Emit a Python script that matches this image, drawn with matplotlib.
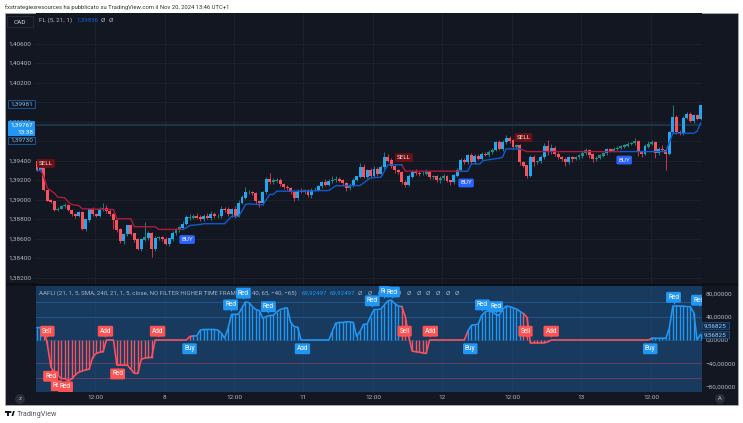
import matplotlib
matplotlib.use("Agg")
import matplotlib.pyplot as plt
import numpy as np
from matplotlib.patches import Rectangle, Circle, Polygon
from matplotlib.transforms import Affine2D

plt.rcParams["font.family"] = "Roboto"

# candles: first open, closes, wicks in points (1e-5)
first_open = 1.39390
closes = [
    1.39298, 1.39366, 1.39093, 1.38990, 1.38977, 1.38895, 1.38905, 1.38929, 1.38939, 1.38888,
    1.38847, 1.38827, 1.38868, 1.38700, 1.38793, 1.38905, 1.38847, 1.38833, 1.38902, 1.38912,
    1.38881, 1.38847, 1.38786, 1.38690, 1.38574, 1.38642, 1.38731, 1.38649, 1.38588, 1.38489,
    1.38588, 1.38608, 1.38656, 1.38496, 1.38605, 1.38615, 1.38595, 1.38547, 1.38598, 1.38656,
    1.38683, 1.38711, 1.38745, 1.38813, 1.38813, 1.38827, 1.38813, 1.38796, 1.38827, 1.38813,
    1.38847, 1.38827, 1.38827, 1.38905, 1.38895, 1.38847, 1.38905, 1.38827, 1.38963, 1.39018,
    1.39076, 1.39076, 1.39066, 1.38980, 1.38963, 1.39076, 1.39212, 1.39178, 1.39195, 1.39195,
    1.39161, 1.39127, 1.39117, 1.39076, 1.39018, 1.39086, 1.39079, 1.39093, 1.39045, 1.39100,
    1.39100, 1.39134, 1.39175, 1.39154, 1.39188, 1.39202, 1.39209, 1.39195, 1.39168, 1.39117,
    1.39141, 1.39202, 1.39236, 1.39332, 1.39236, 1.39298, 1.39246, 1.39315, 1.39257, 1.39332,
    1.39434, 1.39400, 1.39339, 1.39298, 1.39281, 1.39178, 1.39154, 1.39236, 1.39281, 1.39270,
    1.39263, 1.39263, 1.39281, 1.39229, 1.39236, 1.39202, 1.39223, 1.39236, 1.39195, 1.39178,
    1.39246, 1.39304, 1.39400, 1.39383, 1.39451, 1.39383, 1.39441, 1.39417, 1.39468, 1.39458,
    1.39485, 1.39509, 1.39588, 1.39519, 1.39588, 1.39632, 1.39605, 1.39537, 1.39554, 1.39383,
    1.39349, 1.39246, 1.39434, 1.39383, 1.39393, 1.39434, 1.39543, 1.39485, 1.39530, 1.39468,
    1.39434, 1.39417, 1.39383, 1.39434, 1.39417, 1.39434, 1.39451, 1.39475, 1.39502, 1.39461,
    1.39417, 1.39427, 1.39451, 1.39475, 1.39516, 1.39502, 1.39519, 1.39530, 1.39543, 1.39554,
    1.39571, 1.39577, 1.39598, 1.39485, 1.39468, 1.39543, 1.39571, 1.39588, 1.39475, 1.39519,
    1.39509, 1.39468, 1.39690, 1.39844, 1.39690, 1.39680, 1.39837, 1.39871, 1.39810, 1.39861,
    1.39827, 1.39970,
]
upper_wick = [
    30, 10, 5, 10, 15, 5, 20, 15, 25, 15, 10, 10, 15, 15, 10, 10, 20, 15, 20, 50,
    35, 20, 15, 10, 15, 20, 10, 15, 10, 20, 15, 160, 20, 15, 25, 10, 15, 20, 10, 20,
    25, 20, 30, 25, 35, 20, 30, 25, 20, 30, 40, 25, 20, 30, 15, 25, 10, 25, 30, 25,
    50, 20, 15, 15, 10, 15, 20, 60, 25, 30, 25, 10, 20, 15, 25, 20, 30, 20, 15, 15,
    25, 20, 15, 35, 20, 40, 30, 25, 20, 10, 30, 20, 10, 40, 30, 20, 25, 30, 15, 20,
    50, 30, 30, 20, 15, 15, 20, 25, 20, 30, 20, 25, 30, 15, 20, 15, 20, 25, 15, 10,
    20, 20, 30, 25, 20, 30, 25, 25, 20, 15, 25, 20, 15, 25, 25, 30, 20, 15, 20, 15,
    15, 10, 20, 20, 15, 20, 40, 70, 35, 20, 15, 15, 15, 15, 15, 15, 20, 20, 25, 15,
    15, 15, 15, 15, 15, 15, 20, 15, 20, 15, 20, 15, 30, 15, 15, 25, 25, 25, 15, 25,
    40, 15, 15, 130, 20, 20, 15, 25, 25, 20, 15, 0,
]
lower_wick = [
    10, 5, 5, 10, 10, 10, 10, 5, 20, 10, 15, 15, 10, 10, 25, 20, 20, 15, 15, 15,
    20, 15, 85, 20, 15, 25, 20, 15, 20, 10, 15, 15, 20, 85, 25, 15, 20, 15, 20, 20,
    15, 20, 15, 10, 20, 15, 15, 15, 15, 15, 20, 15, 15, 15, 20, 20, 25, 15, 10, 10,
    15, 20, 15, 30, 35, 15, 15, 15, 15, 15, 20, 20, 15, 20, 30, 20, 15, 20, 15, 25,
    15, 15, 15, 15, 15, 20, 20, 15, 20, 30, 20, 15, 15, 10, 15, 15, 20, 15, 15, 20,
    15, 15, 15, 25, 15, 20, 30, 20, 15, 15, 20, 15, 15, 15, 20, 20, 35, 25, 20, 25,
    20, 15, 15, 20, 20, 15, 15, 15, 15, 15, 20, 20, 15, 15, 25, 15, 20, 20, 15, 30,
    20, 20, 10, 35, 20, 20, 20, 25, 20, 25, 20, 20, 35, 20, 35, 15, 20, 20, 15, 30,
    35, 25, 15, 15, 15, 15, 15, 15, 15, 15, 15, 15, 15, 35, 35, 15, 15, 15, 50, 15,
    15, 170, 15, 15, 15, 15, 15, 15, 15, 20, 15, 15,
]

# trend line pieces, vertices as (bar, price)
red_bars = [[1, 2, 3, 5, 6, 8, 9, 10, 12, 13, 22, 23, 27, 28, 34, 35, 42],
            [105, 106, 122],
            [139, 141, 168]]
red_prices = [[1.39304, 1.39229, 1.39117, 1.39066, 1.39025, 1.39018, 1.38973, 1.38949, 1.38939,
               1.38905, 1.38898, 1.38803, 1.38803, 1.38721, 1.38721, 1.38694, 1.38694],
              [1.39356, 1.39291, 1.39291],
              [1.39519, 1.39492, 1.39492]]
blue_bars = [[-0.3, 1],
             [42, 43, 44, 47, 48, 54, 56, 58, 59, 60, 61, 65, 67, 68, 69, 74, 84, 86, 93, 96, 99, 101, 105],
             [122, 124, 125, 127.5, 128.4, 133, 134, 135, 139],
             [168, 181, 183, 189, 190, 191]]
blue_prices = [[1.39304, 1.39304],
               [1.38694, 1.38711, 1.38734, 1.38745, 1.38752, 1.38752, 1.38827, 1.38827, 1.38881,
                1.38949, 1.38956, 1.38946, 1.39052, 1.39052, 1.39086, 1.39086, 1.39093, 1.39141,
                1.39144, 1.39223, 1.39229, 1.39356, 1.39356],
               [1.39291, 1.39291, 1.39366, 1.39366, 1.39400, 1.39424, 1.39434, 1.39519, 1.39519],
               [1.39492, 1.39492, 1.39680, 1.39680, 1.39700, 1.39786]]

signal_text = ["SELL", "BUY", "SELL", "BUY", "SELL", "BUY"]
signal_bars = [2.6, 43.2, 105.6, 123.5, 140, 169]
signal_prices = [1.39370, 1.38590, 1.39430, 1.39170, 1.39635, 1.39405]

hist_values = [
    21, 21, 18, -8, -46, -56, -60, -66, -66, -70, -66, -60, -55, -53, -51, -50, -30, -23, -21, -20,
    0, 0, 0, -43, -43, -43, -43, -50, -57, -57, -33, -31, -30, -30, 0, 0, 0, 0, 0, 0,
    0, 0, 0, 0, 6, 7, 7, 17, 18, 18, 18, 18, 17, 12, 3, 20, 44, 44, 44, 55,
    65, 64, 57, 52, 50, 37, 40, 42, 42, 48, 52, 54, 55, 30, 23, 22, 0, 0, 0, 0,
    0, 0, 0, 0, 0, 15, 29, 30, 30, 31, 31, 30, 6, 15, 27, 27, 40, 52, 52, 53,
    60, 67, 68, 62, 58, 57, 40, 5, -19, -20, -21, -22, -23, 0, 0, 0, 0, 0, 0, 0,
    0, 0, 0, 0, 15, 25, 26, 27, 42, 48, 50, 48, 44, 42, 52, 58, 57, 55, 53, 49,
    45, 39, -5, -5, -5, -5, -5, -3, 0, 0, 0, 0, 0, 0, 0, 0, 0, 0, 0, 0,
    0, 0, 0, 0, 0, 0, 0, 0, 0, 0, 0, 0, 0, 0, 0, 0, 0, 3, 3, 3,
    3, 3, 20, 58, 58, 58, 58, 57, 57, 47, 0, 9.57,
]
hist_red_spans = [(2, 44), (105, 123), (140, 176)]

tag_text = ["Sell", "Add", "Add", "Buy", "Red", "Re", "Red", "Red", "Red", "Red", "Red", "Add", "Red",
            "Re", "Red", "Sell", "Add", "Buy", "Red", "Red", "Sell", "Add", "Buy", "Red", "Red"]
tag_bars = [3, 19.7, 34.7, 43.9, 3.9, 5.6, 8.2, 23.2, 55.7, 59.4, 66.6, 76.4, 96.5,
            100, 102.3, 105.8, 113.2, 124.7, 128.2, 132, 140.6, 148, 176.5, 183.2, 190.4]
tag_values = [15, 15, 15, -15, -62, -78, -80, -58, 60, 80, 57, -15, 67,
              83, 82, 15, 15, -15, 60, 57, 15, 15, -15, 73, 68]

price_ticks = [1.406, 1.404, 1.402, 1.400, 1.398, 1.396, 1.394, 1.392, 1.390, 1.388, 1.386, 1.384, 1.382]
ind_ticks = [80, 40, 0, -40, -80]
ind_levels = [65, 40, -40, -65]
time_ticks = [16.7, 36.7, 56.7, 76.7, 96.7, 116.7, 136.7, 156.7, 176.7]
time_labels = ["12:00", "8", "12:00", "11", "12:00", "12", "12:00", "13", "12:00"]

BG = "#131722"
GRID = "#1e222d"
TXT = "#b2b5be"
BLUE = "#2196f3"
RED = "#f7525f"
W, H = 743, 423
AXIS_SIZE = 4.6

fig = plt.figure(figsize=(W / 100, H / 100), dpi=100, facecolor="white")
px = Affine2D().scale(1 / W, -1 / H).translate(0, 1) + fig.transFigure


def add_axes(left, top, right, bottom):
    return fig.add_axes([left / W, 1 - bottom / H, (right - left) / W, (bottom - top) / H])


fig.add_artist(Rectangle((5, 13), 732.5, 392, transform=px, fc=BG, ec="#a8abb3", lw=0.6, zorder=-2))
fig.add_artist(Rectangle((5.5, 283.5), 732, 2.5, transform=px, fc="#0c0f16", ec="none", zorder=-1))

# price panel
ax = add_axes(36, 13.5, 702, 283.5)
ax.set_facecolor(BG)
bars = np.arange(len(closes))
closes_arr = np.array(closes)
opens = np.r_[first_open, closes_arr[:-1]]
highs = np.maximum(opens, closes_arr) + np.array(upper_wick) * 1e-5
lows = np.minimum(opens, closes_arr) - np.array(lower_wick) * 1e-5
ups = closes_arr >= opens
big = np.abs(closes_arr - opens) > 0.0003
colors = np.where(ups, np.where(big, "#22a7f0", "#1f8f8a"), RED)
ax.axhline(closes[-1] - 0.00203, color="#1c3a50", lw=1.2, zorder=1.5)
ax.vlines(bars, lows, highs, colors=np.where(ups, "#1f7f7a", "#c9364a"), lw=0.7, zorder=2)
ax.bar(bars, np.abs(closes_arr - opens) + 0.00003, bottom=np.minimum(opens, closes_arr), width=0.85,
       color=colors, zorder=3)
for b, p in zip(red_bars, red_prices):
    ax.plot(b, p, color="#ad1a3e", lw=1.0, zorder=4, solid_joinstyle="round")
for b, p in zip(blue_bars, blue_prices):
    ax.plot(b, p, color="#0f5bd0", lw=1.0, zorder=4, solid_joinstyle="round")
for t, b, p in zip(signal_text, signal_bars, signal_prices):
    is_buy = t == "BUY"
    ax.text(b, p, t, color="#e8eaf6" if is_buy else "#f5e0e0", fontsize=4.6, ha="center", va="center", zorder=6,
            bbox=dict(boxstyle="round,pad=0.3,rounding_size=0.25", fc="#2962ff" if is_buy else "#6b1014", ec="none"))
ax.set_xlim(-0.29, 191.4)
ax.set_ylim(1.38139, 1.40908)
ax.set_yticks(price_ticks)
ax.set_yticklabels([f"{v:.5f}".replace(".", ",") for v in price_ticks])
ax.set_xticks(time_ticks)
ax.tick_params(axis="y", length=0, labelsize=AXIS_SIZE, colors=TXT, pad=3.2)
ax.tick_params(axis="x", length=0, labelbottom=False)
ax.grid(True, color=GRID, lw=0.6, zorder=0)
ax.set_axisbelow(True)
for s in ax.spines.values():
    s.set_visible(False)

# indicator panel
ax2 = add_axes(36, 286, 702, 392)
ax2.set_facecolor("#173a5e")
hist = np.array(hist_values)
is_red = np.zeros(len(hist), dtype=bool)
for a, b in hist_red_spans:
    is_red[a:b + 1] = True
for lv in ind_levels:
    ax2.axhline(lv, color="#24588a" if lv > 0 else "#6a3f62", lw=0.7, zorder=1)
ax2.axhline(0, color="#21507a", lw=0.5, zorder=1)
ax2.vlines(bars, 0, hist, colors=np.where(is_red, RED, BLUE), lw=1.0, zorder=3)
edges = np.flatnonzero(np.diff(is_red.astype(int))) + 1
start = 0
for e in list(edges) + [len(hist) - 1]:
    ax2.plot(bars[start:e + 1], hist[start:e + 1], color=RED if is_red[start] else BLUE, lw=1.2, zorder=3)
    start = e
for t, b, v in zip(tag_text, tag_bars, tag_values):
    col = "#ff5252" if t in ("Sell", "Add") and v > 0 or (t in ("Red", "Re") and v < 0) else BLUE
    ax2.text(b, v, t, color="white", fontsize=4.7, ha="center", va="center", zorder=6, clip_on=True,
             bbox=dict(boxstyle="round,pad=0.3,rounding_size=0.2", fc=col, ec="none"))
    ax2.plot([b], [v - 9 if v > 0 else v + 9], marker="v" if v > 0 else "^", ms=2, color=col, mec="none", zorder=6)
ax2.set_xlim(-0.29, 191.4)
ax2.set_ylim(-88.9, 92.3)
ax2.set_yticks(ind_ticks)
ax2.set_yticklabels([f"{v:.5f}".replace(".", ",").replace("-", "\u2212") for v in ind_ticks])
ax2.yaxis.tick_right()
ax2.set_xticks(time_ticks)
ax2.set_xticklabels(time_labels)
ax2.tick_params(axis="y", length=0, labelsize=AXIS_SIZE, colors=TXT, pad=2.5)
ax2.tick_params(axis="x", length=0, labelsize=AXIS_SIZE, colors=TXT, pad=2.5)
ax2.grid(True, axis="x", color="#1d4168", lw=0.6, zorder=0)
ax2.set_axisbelow(True)
for s in ax2.spines.values():
    s.set_visible(False)


def ftext(x, y, s, color=TXT, size=4.4, ha="left", **kw):
    fig.add_artist(plt.Text(x, y, s, color=color, fontsize=size, ha=ha, va="center", transform=px, zorder=10, **kw))


def fbox(x0, y0, x1, y1, fc, ec="none"):
    fig.add_artist(Rectangle((x0, y0), x1 - x0, y1 - y0, transform=px, fc=fc, ec=ec, lw=0.6, zorder=9))


def legend_text(x, s, color):
    # sits under the tags of the indicator panel
    ax2.text(x, 293.5, s, color=color, fontsize=4.4, ha="left", va="center", transform=px, zorder=5, clip_on=False)


ftext(5, 7.5, "fxstrategiesresources ha pubblicato su TradingView.com il Nov 20, 2024 13:46 UTC+1", color="#333333", size=4.25)

# top left widgets
fbox(7, 16, 33, 27.5, "#131722", "#2a2e39")
ftext(20, 22, "CAD", color="#d1d4dc", size=4.6, ha="center")
ftext(39, 20.5, "FL (5, 21, 1)", size=4.6)
ftext(76, 20.5, "1,39836", color="#1560d8", size=4.4)
ftext(101, 20.5, "\u00d8", size=4.6)
ftext(109, 20.5, "\u00d8", size=4.6)

fbox(8, 100.5, 35, 108, "#131722", "#1560a8")
ftext(21.5, 104.3, "1,39981", color="#7fb8e8", size=AXIS_SIZE, ha="center")
fbox(8, 121, 35, 136, BLUE)
ftext(33, 124.8, "1,39767", color="white", size=AXIS_SIZE, ha="right")
ftext(33, 132, "13:38", color="white", size=AXIS_SIZE, ha="right")
fbox(8, 137, 35, 144, "#131722", "#1560a8")
ftext(21.5, 140.5, "1,39730", color="#7fb8e8", size=AXIS_SIZE, ha="center")

# indicator legend
legend_text(39, "AAFLI (21, 1, 5, SMA, 240, 21, 1, 5, close, NO FILTER HIGHER TIME FRAME, 30, 40, 65, \u221240, \u221265)", "#a9b4c2")
legend_text(302, "69,92497", BLUE)
legend_text(330, "69,92497", BLUE)
for zero_x in np.arange(358, 458, 9.7):
    legend_text(zero_x, "\u00d8", "#a9b4c2")

fbox(702, 322, 729, 329.5, "#12294a", "#1d4e7a")
ftext(715.5, 326, "9,56825", color="#9fd0f5", size=AXIS_SIZE, ha="center")
fbox(702, 331, 729, 338.5, "#12294a", "#1d4e7a")
ftext(715.5, 335, "9,56825", color="#9fd0f5", size=AXIS_SIZE, ha="center")

# bottom buttons
for cx, s in [(20, "z"), (720, "A")]:
    fig.add_artist(Circle((cx, 399), 5, transform=px, fc="#2a2e39", ec="none", zorder=9))
    ftext(cx, 399, s, size=4.2, ha="center")

# logo
fig.add_artist(Rectangle((5, 411), 4.5, 1.8, transform=px, fc="#131722", ec="none", zorder=9))
fig.add_artist(Rectangle((7, 411), 2, 5, transform=px, fc="#131722", ec="none", zorder=9))
fig.add_artist(Circle((10.5, 412), 1, transform=px, fc="#131722", ec="none", zorder=9))
fig.add_artist(Polygon([(11.5, 416), (13, 411), (14.8, 411), (13.3, 416)], transform=px, fc="#131722", ec="none", zorder=9))
ftext(16.5, 414, "TradingView", color="#555555", size=5.2)

fig.savefig("out.png", dpi=100, facecolor="white")
